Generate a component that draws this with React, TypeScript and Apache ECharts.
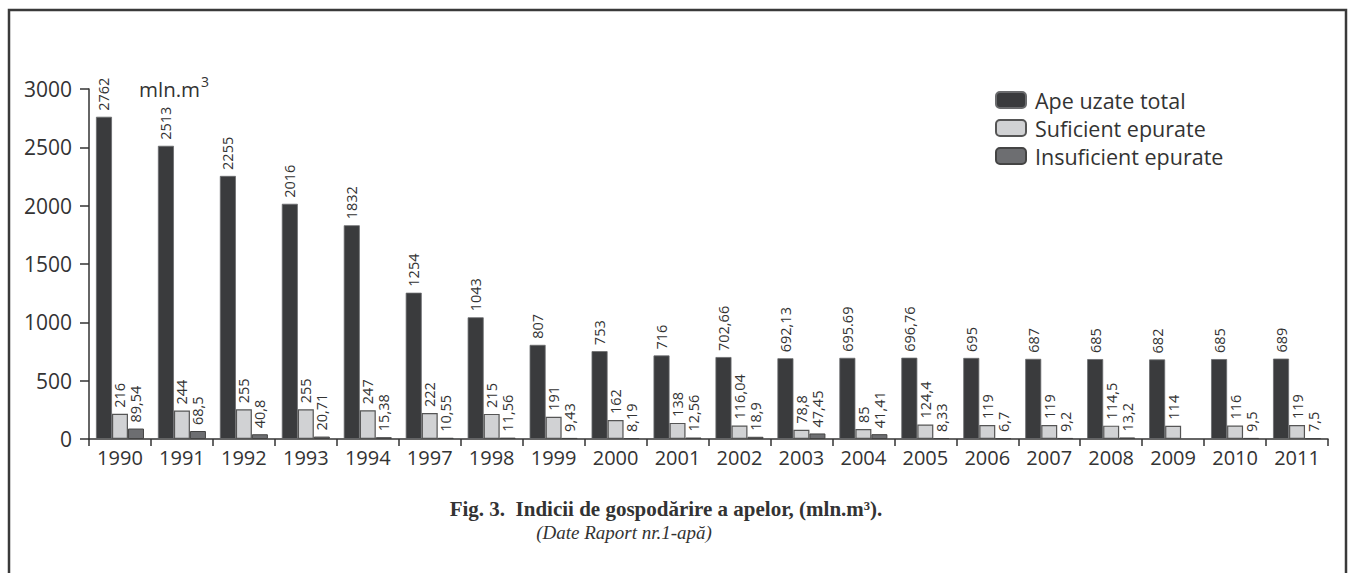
import React, { useEffect, useRef } from "react";
import * as echarts from "echarts";

const years = ["1990","1991","1992","1993","1994","1997","1998","1999","2000","2001","2002","2003","2004","2005","2006","2007","2008","2009","2010","2011"];
const totalText = ["2762","2513","2255","2016","1832","1254","1043","807","753","716","702,66","692,13","695.69","696,76","695","687","685","682","685","689"];
const suficientText = ["216","244","255","255","247","222","215","191","162","138","116,04","78,8","85","124,4","119","119","114,5","114","116","119"];
const insuficientText = ["89,54","68,5","40,8","20,71","15,38","10,55","11,56","9,43","8,19","12,56","18,9","47,45","41,41","8,33","6,7","9,2","13,2","","9,5","7,5"];
const yTicks = { min: 0, max: 3000, interval: 500 };
const seriesNames = ["Ape uzate total", "Suficient epurate", "Insuficient epurate"];

const toData = (arr: string[]) =>
  arr.map((s) => (s === "" ? null : { value: parseFloat(s.replace(",", ".")), label: { formatter: s } }));

const SANS = "'Open Sans', 'Noto Sans', sans-serif";
const SERIF = "'Liberation Serif', 'DejaVu Serif', serif";

export default function App() {
  const ref = useRef<HTMLDivElement>(null);
  useEffect(() => {
    if (!ref.current) return;
    const chart = echarts.init(ref.current, null, { renderer: "svg" });
    const label = {
      show: true,
      position: "top" as const,
      rotate: 90,
      align: "left" as const,
      verticalAlign: "middle" as const,
      distance: 6,
      fontFamily: SANS,
      fontSize: 14.5,
      color: "#333",
    };
    chart.setOption({
      animation: false,
      backgroundColor: "#fff",
      grid: { left: 89, right: 23, top: 89, bottom: 134, containLabel: false },
      legend: {
        orient: "vertical",
        left: 990,
        top: 84,
        itemWidth: 30,
        itemHeight: 16,
        itemGap: 6,
        textStyle: { fontFamily: SANS, fontSize: 21.5, lineHeight: 20, color: "#333", padding: [0, 0, 0, 4] },
        data: seriesNames,
      },
      xAxis: {
        type: "category",
        data: years,
        axisLine: { lineStyle: { color: "#333", width: 1.5 } },
        axisTick: { show: true, length: 7, lineStyle: { color: "#333", width: 1.5 } },
        axisLabel: { fontFamily: SANS, fontSize: 20, color: "#333", margin: 8 },
      },
      yAxis: {
        type: "value",
        min: yTicks.min,
        max: yTicks.max,
        interval: yTicks.interval,
        splitLine: { show: false },
        axisLine: { show: true, lineStyle: { color: "#333", width: 1.5 } },
        axisTick: { show: true, length: 9, lineStyle: { color: "#333", width: 1.5 } },
        axisLabel: { fontFamily: SANS, fontSize: 21, color: "#333", margin: 17, formatter: (v: number) => String(v) },
      },
      series: [
        {
          name: seriesNames[0],
          type: "bar",
          barWidth: 16,
          barGap: "0%",
          data: toData(totalText),
          itemStyle: { color: "#3a3b3d", borderColor: "#6a6b6d", borderWidth: 0.8 },
          label,
        },
        {
          name: seriesNames[1],
          type: "bar",
          barWidth: 16,
          barGap: "0%",
          data: toData(suficientText),
          itemStyle: { color: "#d1d2d4", borderColor: "#555", borderWidth: 1.2 },
          label,
        },
        {
          name: seriesNames[2],
          type: "bar",
          barWidth: 16,
          barGap: "0%",
          data: toData(insuficientText),
          itemStyle: { color: "#6d6e71", borderColor: "#444", borderWidth: 1 },
          label,
        },
      ],
      graphic: [
        {
          type: "rect",
          shape: { x: 9, y: 10, width: 1337, height: 575 },
          style: { fill: "none", stroke: "#3a3a3a", lineWidth: 2.5 },
          silent: true,
        },
        {
          type: "text",
          x: 139,
          y: 89,
          style: { text: "mln.m", fontFamily: SANS, fontSize: 20.5, fill: "#333", textVerticalAlign: "middle" },
        },
        {
          type: "text",
          x: 201,
          y: 81,
          style: { text: "3", fontFamily: SANS, fontSize: 14, fill: "#333", textVerticalAlign: "middle" },
        },
        {
          type: "text",
          x: 666,
          y: 509,
          style: {
            text: "Fig. 3.  Indicii de gospodărire a apelor, (mln.m³).",
            fontFamily: SERIF,
            fontWeight: "bold",
            fontSize: 21,
            fill: "#333",
            textAlign: "center",
            textVerticalAlign: "middle",
          },
        },
        {
          type: "text",
          x: 624,
          y: 532,
          style: {
            text: "(Date Raport nr.1-apă)",
            fontFamily: SERIF,
            fontStyle: "italic",
            fontSize: 19,
            fill: "#333",
            textAlign: "center",
            textVerticalAlign: "middle",
          },
        },
      ],
    });
    return () => chart.dispose();
  }, []);
  return (
    <div
      ref={ref}
      style={{ position: "fixed", left: 0, top: 0, width: 1351, height: 573, background: "#fff" }}
    />
  );
}
